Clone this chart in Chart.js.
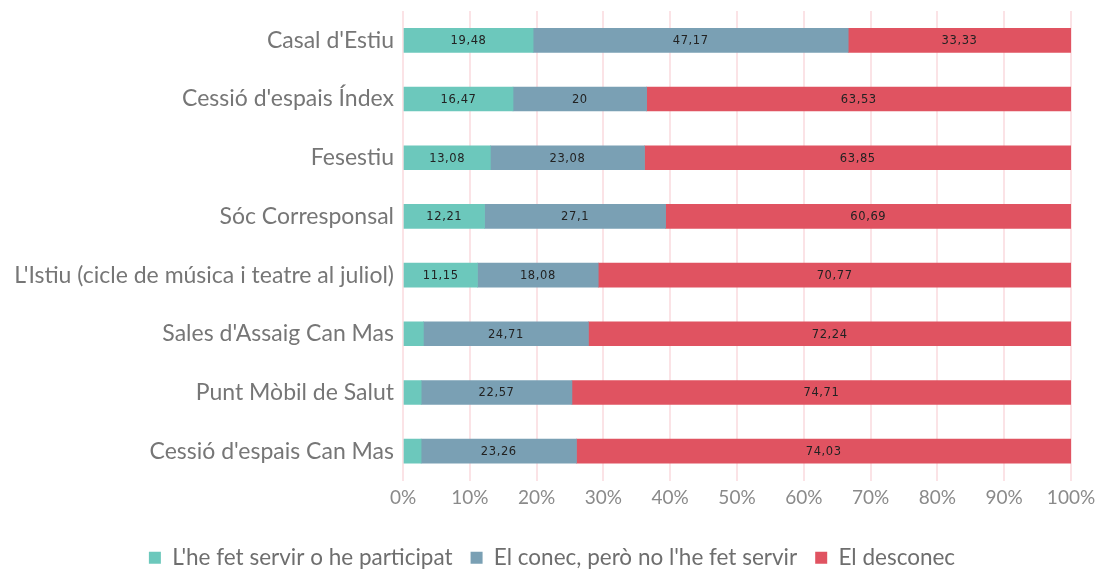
<!DOCTYPE html>
<html>
<head>
<meta charset="utf-8">
<script src="https://cdn.jsdelivr.net/npm/chart.js@4"></script>
<style>
  html, body { margin: 0; padding: 0; background: #fff; }
  #wrap { width: 1104px; height: 569px; }
</style>
</head>
<body>
<div id="wrap"><canvas id="chart" width="1104" height="569"></canvas></div>
<script>
// categories, top to bottom
const categories = [
    "Casal d'Estiu",
    "Cessió d'espais Índex",
    "Fesestiu",
    "Sóc Corresponsal",
    "L'Istiu (cicle de música i teatre al juliol)",
    "Sales d'Assaig Can Mas",
    "Punt Mòbil de Salut",
    "Cessió d'espais Can Mas"
];

// series values (%)
const usat = [19.48, 16.47, 13.08, 12.21, 11.15, 3.05, 2.72, 2.71];
const conec = [47.17, 20, 23.08, 27.1, 18.08, 24.71, 22.57, 23.26];
const desconec = [33.33, 63.53, 63.85, 60.69, 70.77, 72.24, 74.71, 74.03];

const seriesNames = ["L'he fet servir o he participat", "El conec, però no l'he fet servir", "El desconec"];
const seriesColors = ['#6cc8bc', '#7aa0b4', '#e05361'];

// tick labels on x axis
const xTicks = ['0%', '10%', '20%', '30%', '40%', '50%', '60%', '70%', '80%', '90%', '100%'];

const FONT = 'Lato';

// draws the numbers inside the segments
const barLabels = {
    id: 'barLabels',
    afterDatasetsDraw(chart) {
        const ctx = chart.ctx;
        ctx.save();
        ctx.font = '11.5px "DejaVu Sans"';
        ctx.letterSpacing = '0.6px';
        ctx.fillStyle = '#222';
        ctx.textAlign = 'center';
        ctx.textBaseline = 'middle';
        chart.data.datasets.forEach((ds, i) => {
            const meta = chart.getDatasetMeta(i);
            meta.data.forEach((bar, j) => {
                const v = ds.data[j];
                if (v < 5) return;
                const p = bar.getCenterPoint();
                ctx.fillText(String(v).replace('.', ','), p.x, p.y + 1);
            });
        });
        ctx.restore();
    }
};

const ctx = document.getElementById('chart').getContext('2d');
const chart = new Chart(ctx, {
    type: 'bar',
    data: {
        labels: categories,
        datasets: [
            { label: seriesNames[0], data: usat, backgroundColor: seriesColors[0] },
            { label: seriesNames[1], data: conec, backgroundColor: seriesColors[1] },
            { label: seriesNames[2], data: desconec, backgroundColor: seriesColors[2] }
        ]
    },
    options: {
        indexAxis: 'y',
        responsive: false,
        animation: false,
        datasets: {
            bar: { barThickness: 24, borderWidth: 0 }
        },
        layout: { padding: { left: 0, right: 0, top: 11, bottom: -10 } },
        scales: {
            x: {
                stacked: true,
                min: 0,
                max: 100,
                grid: { color: '#fbe3e6', lineWidth: 2, drawTicks: false },
                border: { display: false },
                ticks: {
                    stepSize: 10,
                    padding: 6,
                    color: '#8a8a8a',
                    font: { family: FONT, size: 19 },
                    callback: (v, i) => xTicks[i]
                },
                afterFit: (s) => {
                    s.height = 48;
                    s.paddingRight = 33;
                }
            },
            y: {
                stacked: true,
                grid: { display: false, drawTicks: false },
                border: { display: false },
                ticks: {
                    padding: 9,
                    color: '#767676',
                    font: { family: FONT, size: 23 }
                },
                afterFit: (s) => {
                    s.width = 403;
                    s.paddingTop = 0;
                    s.paddingBottom = 0;
                }
            }
        },
        plugins: {
            legend: {
                position: 'bottom',
                labels: {
                    boxWidth: 12,
                    boxHeight: 12,
                    padding: 18,
                    color: '#6e6e6e',
                    font: { family: FONT, size: 22.5 }
                }
            },
            tooltip: { enabled: false }
        }
    },
    plugins: [barLabels]
});
</script>
</body>
</html>
